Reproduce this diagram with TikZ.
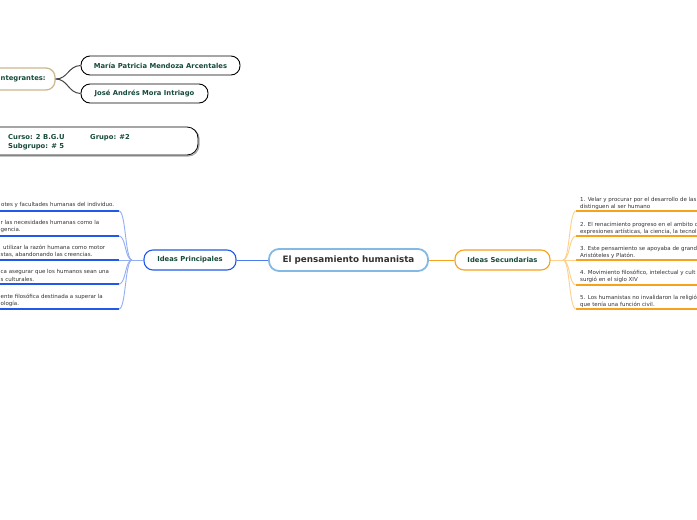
\documentclass[tikz,border=0pt]{standalone}
\usepackage{fontspec}
\setmainfont{DejaVu Sans}
\definecolor{dkgreen}{HTML}{174B3C}
\definecolor{txtgray}{HTML}{333333}
\definecolor{tanc}{HTML}{CDB891}
\definecolor{bluebox}{HTML}{2159E8}
\definecolor{bluelight}{HTML}{93AEF3}
\definecolor{centralc}{HTML}{83B9E3}
\definecolor{orangec}{HTML}{F7A21B}
\definecolor{orangelight}{HTML}{FDD08C}
\definecolor{darkline}{HTML}{444444}
\begin{document}
\begin{tikzpicture}[x=1pt,y=-1pt,
  lbl/.style={font=\fontsize{6.8}{8}\selectfont\bfseries, text=dkgreen},
  itm/.style={font=\fontsize{5.5}{7}\selectfont, text=txtgray, inner sep=0pt, anchor=base west},
  boxround/.style={draw, rounded corners=9pt, inner sep=0pt},
  ublue/.style={draw=bluebox, line width=1.4pt},
  cblue/.style={draw=bluelight, line width=0.9pt},
  uorange/.style={draw=orangec, line width=1.4pt},
  corange/.style={draw=orangelight, line width=0.9pt},
  dline/.style={draw=darkline, line width=1pt}
]
\useasboundingbox (0,0) rectangle (697,520);
\clip (0,0) rectangle (697,520);
\fill[white] (0,0) rectangle (697,520);

% ---------- Integrantes ----------
\node[boxround, draw=tanc, line width=1.3pt, minimum width=70pt, minimum height=22pt] (integ) at (20,79) {};
\node[lbl, inner sep=0pt, anchor=west] (integt) at (0.5,79) {ntegrantes:};
\node[boxround, draw=black, line width=0.9pt, minimum width=159pt, minimum height=19pt, lbl] (maria) at (160.5,65.5) {María Patricia Mendoza Arcentales};
\node[boxround, draw=black, line width=0.9pt, minimum width=127pt, minimum height=19pt, lbl] (jose) at (144.5,93.5) {José Andrés Mora Intriago};
\draw[dline] (integ.east) .. controls (68,79) and (68,66) .. (maria.west);
\draw[dline] (integ.east) .. controls (68,79) and (68,93) .. (jose.west);

% ---------- Curso ----------
\node[boxround, draw=gray!70, line width=1.2pt, minimum width=218pt, minimum height=28pt, rounded corners=11pt] (cursoshadow) at (90,142) {};
\node[boxround, draw=black, line width=0.8pt, minimum width=218pt, minimum height=28pt, rounded corners=11pt, fill=white] (curso) at (89,141) {};
\node[lbl, inner sep=0pt, anchor=base west] (c1) at (8,139.5) {Curso: 2 B.G.U};
\node[lbl, inner sep=0pt, anchor=base west] (c2) at (90,139.5) {Grupo: \#2};
\node[lbl, inner sep=0pt, anchor=base west] (c3) at (8,148.5) {Subgrupo: \# 5};

% ---------- Central ----------
\node[boxround, draw=centralc, line width=1.8pt, minimum width=159pt, minimum height=22pt, rounded corners=10pt,
  font=\fontsize{8.8}{10}\selectfont\bfseries, text=txtgray] (central) at (348.5,260) {El pensamiento humanista};
\node[boxround, draw=bluebox, line width=1.1pt, minimum width=92pt, minimum height=20pt, lbl] (ip) at (190,260) {Ideas Principales};
\node[boxround, draw=orangec, line width=1.1pt, minimum width=95pt, minimum height=20pt, lbl] (is) at (502.5,260) {Ideas Secundarias};
\draw[draw=bluebox!80, line width=1pt] (central.west) -- (ip.east);
\draw[draw=orangec, line width=1pt] (central.east) -- (is.west);

% ---------- Left items ----------
\coordinate (lhub) at (132,260);
\foreach \n/\y in {1/211,2/236,3/260,4/284,5/309}{
  \coordinate (le\n) at (119,\y);
  \coordinate (lf\n) at (-5,\y);
}
\draw[cblue] (ip.west) -- (lhub);
\foreach \n in {1,...,5}{
  \draw[cblue] (lhub) .. controls (125,260) and (126,0|-le\n) .. (le\n);
  \draw[ublue] (le\n) -- (lf\n);
}
\node[itm] (l1a) at (1,206) {otes y facultades humanas del individuo.};
\node[itm] (l2a) at (0.5,224) {r las necesidades humanas como la};
\node[itm] (l2b) at (0.5,231.5) {gencia.};
\node[itm] (l3a) at (3,249) {utilizar la razón humana como motor};
\node[itm] (l3b) at (0.5,256.5) {stas, abandonando las creencias.};
\node[itm] (l4a) at (0.5,273.5) {ca asegurar que los humanos sean una};
\node[itm] (l4b) at (0.5,281) {s culturales.};
\node[itm] (l5a) at (0.5,298) {ente filosófica destinada a superar la};
\node[itm] (l5b) at (0.5,305.5) {ología.};

% ---------- Right items ----------
\coordinate (rhub) at (563,260);
\foreach \n/\y in {1/211,2/236,3/260,4/285,5/309}{
  \coordinate (re\n) at (576,\y);
  \coordinate (rf\n) at (702,\y);
}
\draw[corange] (is.east) -- (rhub);
\foreach \n in {1,...,5}{
  \draw[corange] (rhub) .. controls (570,260) and (569,0|-re\n) .. (re\n);
  \draw[uorange] (re\n) -- (rf\n);
}
\node[itm] (r1a) at (580,201) {1. Velar y procurar por el desarrollo de las};
\node[itm] (r1b) at (580,208) {distinguen al ser humano};
\node[itm] (r2a) at (580,226) {2. El renacimiento progreso en el ambito c};
\node[itm] (r2b) at (580,233) {expresiones artísticas, la ciencia, la tecnol};
\node[itm] (r3a) at (580,250) {3. Este pensamiento se apoyaba de grand};
\node[itm] (r3b) at (580,257) {Aristóteles y Platón.};
\node[itm] (r4a) at (580,274.5) {4. Movimiento filosófico, intelectual y cult};
\node[itm] (r4b) at (580,281.5) {surgió en el siglo XIV};
\node[itm] (r5a) at (580,299) {5. Los humanistas no invalidaron la religió};
\node[itm] (r5b) at (580,306) {que tenía una función civil.};
\end{tikzpicture}
\end{document}
